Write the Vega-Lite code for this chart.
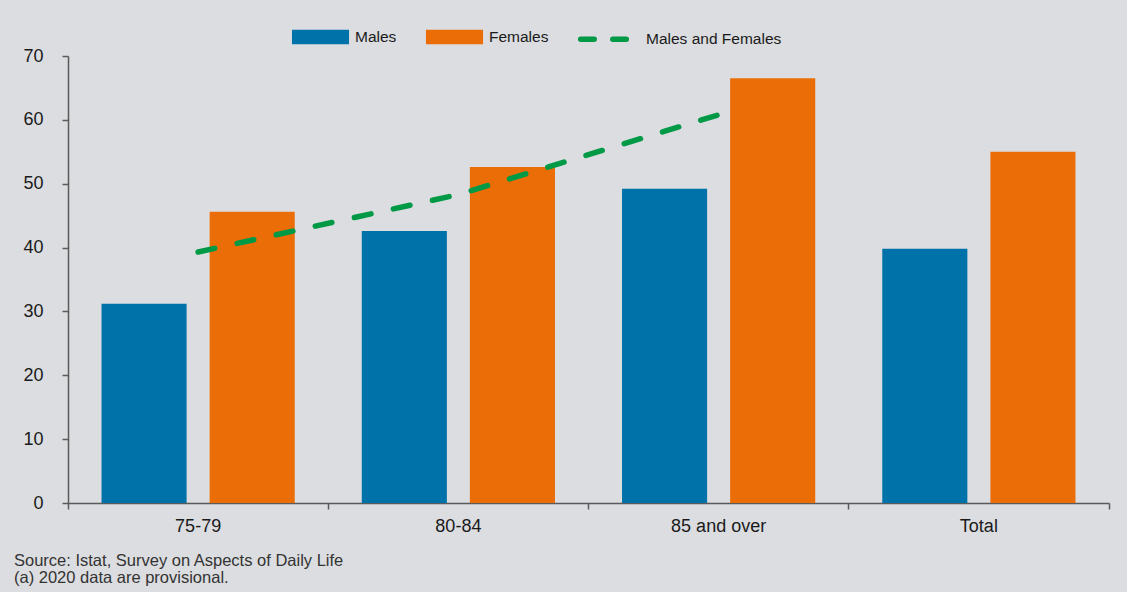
{
  "$schema": "https://vega.github.io/schema/vega-lite/v6.json",
  "width": 1041,
  "height": 447,
  "autosize": {"type": "none"},
  "padding": {"left": 68, "top": 56, "right": 18, "bottom": 89},
  "background": "#dcdde0",
  "config": {"view": {"stroke": null}, "font": "Arial, Liberation Sans, sans-serif"},
  "data": {
    "values": [
      {"age": "75-79", "sex": "Males", "value": 31.2},
      {"age": "75-79", "sex": "Females", "value": 45.6},
      {"age": "80-84", "sex": "Males", "value": 42.6},
      {"age": "80-84", "sex": "Females", "value": 52.6},
      {"age": "85 and over", "sex": "Males", "value": 49.2},
      {"age": "85 and over", "sex": "Females", "value": 66.5},
      {"age": "Total", "sex": "Males", "value": 39.8},
      {"age": "Total", "sex": "Females", "value": 55.0},
      {"age": "75-79", "sex": "Males and Females", "value": 39.3},
      {"age": "80-84", "sex": "Males and Females", "value": 48.3},
      {"age": "85 and over", "sex": "Males and Females", "value": 60.8}
    ]
  },
  "title": {
    "text": ["Source: Istat, Survey on Aspects of Daily Life", "(a) 2020 data are provisional."],
    "orient": "bottom",
    "anchor": "start",
    "frame": "group",
    "dx": -54,
    "offset": 18,
    "fontSize": 16.5,
    "fontWeight": "normal",
    "color": "#333333",
    "lineHeight": 17
  },
  "encoding": {
    "x": {
      "field": "age",
      "type": "nominal",
      "sort": ["75-79", "80-84", "85 and over", "Total"],
      "scale": {"paddingInner": 0, "paddingOuter": 0},
      "axis": {
        "title": null,
        "bandPosition": 1,
        "tickExtra": true,
        "labelAngle": 0,
        "grid": false,
        "domainColor": "#5a5a5a",
        "domainWidth": 1.5,
        "tickColor": "#5a5a5a",
        "tickWidth": 1.5,
        "tickSize": 6,
        "labelFontSize": 18,
        "labelColor": "#1a1a1a",
        "labelPadding": 8
      }
    }
  },
  "layer": [
    {
      "transform": [{"filter": "datum.sex !== 'Males and Females'"}],
      "mark": {"type": "bar"},
      "encoding": {
        "xOffset": {
          "field": "sex",
          "type": "nominal",
          "sort": ["Males", "Females"],
          "scale": {"paddingInner": 0.213, "paddingOuter": 0.31}
        },
        "y": {
          "field": "value",
          "type": "quantitative",
          "scale": {"domain": [0, 70], "nice": false},
          "axis": {
            "title": null,
            "values": [0, 10, 20, 30, 40, 50, 60, 70],
            "grid": false,
            "domainColor": "#5a5a5a",
            "domainWidth": 1.5,
            "tickColor": "#5a5a5a",
            "tickWidth": 1.5,
            "tickSize": 6,
            "labelFontSize": 18,
            "labelColor": "#1a1a1a",
            "labelPadding": 19
          }
        },
        "color": {
          "field": "sex",
          "type": "nominal",
          "scale": {
            "domain": ["Males", "Females", "Males and Females"],
            "range": ["#0072aa", "#eb6d08", "#009a46"]
          },
          "legend": {
            "title": null,
            "orient": "none",
            "legendX": 221,
            "legendY": -51,
            "direction": "horizontal",
            "padding": 0,
            "symbolSize": 3249,
            "labelFontSize": 15.5,
            "labelColor": "#1a1a1a",
            "labelOffset": 3,
            "columnPadding": 20,
            "encode": {
              "symbols": {
                "update": {
                  "shape": {"signal": "datum.value === 'Males and Females' ? 'M-0.8,0H-0.325M0.325,0H0.8' : 'M-0.905,-0.16H0.905V0.16H-0.905Z'"},
                  "fill": {"signal": "datum.value === 'Males' ? '#0072aa' : datum.value === 'Females' ? '#eb6d08' : 'transparent'"},
                  "stroke": {"signal": "datum.value === 'Males and Females' ? '#009a46' : 'transparent'"},
                  "strokeWidth": {"value": 5.5},
                  "strokeCap": {"value": "round"},
                  "opacity": {"value": 1}
                }
              },
              "labels": {
                "update": {
                  "dx": {"signal": "datum.value === 'Males and Females' ? 8 : 0"}
                }
              }
            }
          }
        }
      }
    },
    {
      "transform": [{"filter": "datum.sex === 'Males and Females'"}],
      "mark": {"type": "line", "strokeWidth": 5.5, "strokeDash": [17, 23], "strokeCap": "round"},
      "encoding": {
        "y": {"field": "value", "type": "quantitative"},
        "color": {"field": "sex", "type": "nominal"}
      }
    }
  ]
}
